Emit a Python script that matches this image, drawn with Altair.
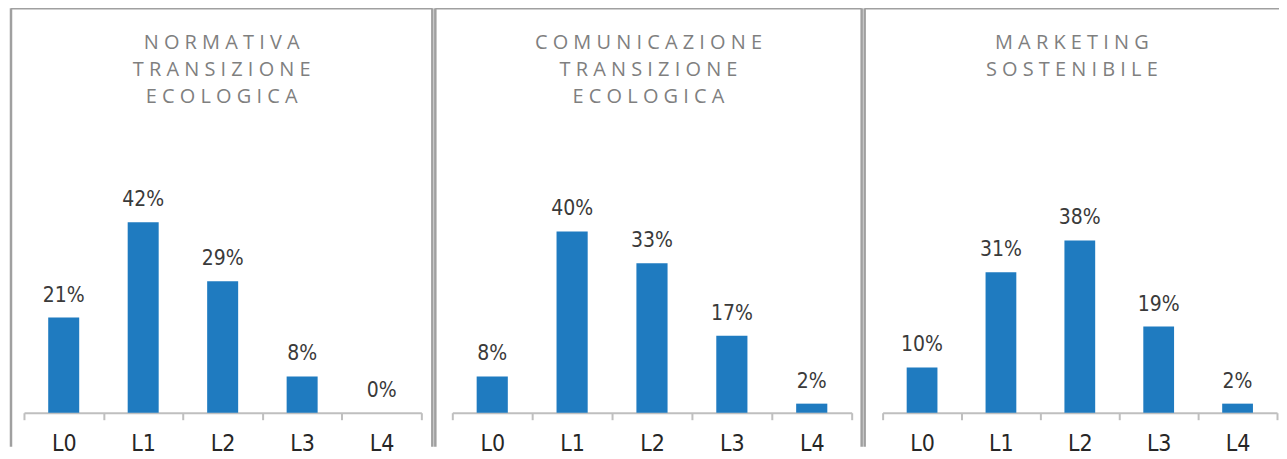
import altair as alt
import pandas as pd

levels = ["L0", "L1", "L2", "L3", "L4"]
title_lines = [
    ["NORMATIVA", "TRANSIZIONE", "ECOLOGICA"],
    ["COMUNICAZIONE", "TRANSIZIONE", "ECOLOGICA"],
    ["MARKETING", "SOSTENIBILE"],
]
values = [
    [21, 42, 29, 8, 0],
    [8, 40, 33, 17, 2],
    [10, 31, 38, 19, 2],
]

BLUE = "#1F7BC0"
BORDER = "#A0A0A0"
AXIS_GREY = "#BFBFBF"
TITLE_GREY = "#7F7F7F"
FONT = "Liberation Sans Narrow, DejaVu Sans Condensed, Open Sans"

widths = [422, 427, 415]
ranges = [[13, 411], [17, 417], [18, 413]]
H = 439
PX_PER_PCT = 4.54
BASE_FROM_TOP = 405
Y_DOM = [-(H - BASE_FROM_TOP) / PX_PER_PCT, BASE_FROM_TOP / PX_PER_PCT]


def spaced(word):
    return " ".join(list(word))


def border_axis(orient):
    return alt.Axis(
        orient=orient,
        domain=True,
        domainColor=BORDER,
        domainWidth=2.5,
        ticks=False,
        labels=False,
        grid=False,
        title=None,
        translate=0,
    )


def panel(i):
    df = pd.DataFrame({"lev": levels, "v": values[i]})
    w = widths[i]
    x = alt.X(
        "lev:N",
        sort=levels,
        scale=alt.Scale(range=ranges[i], paddingInner=0, paddingOuter=0),
        axis=alt.Axis(
            title=None,
            orient="bottom",
            offset=-(H - BASE_FROM_TOP),
            labelAngle=0,
            tickBand="extent",
            domainColor=AXIS_GREY,
            domainWidth=2,
            tickColor=AXIS_GREY,
            tickWidth=2,
            tickSize=7,
            labelFont=FONT,
            labelFontSize=23,
            labelColor="#262626",
            labelPadding=13,
            labelBaseline="top",
        ),
    )
    y = alt.Y(
        "v:Q",
        scale=alt.Scale(domain=Y_DOM, nice=False, zero=False),
        axis=border_axis("left"),
    )
    base = alt.Chart(df)
    bars = base.mark_bar(color=BLUE, width=alt.RelativeBandSize(0.39)).encode(
        x=x, y=y, y2=alt.datum(0)
    )
    labels = base.transform_calculate(lab="datum.v + '%'").mark_text(
        baseline="alphabetic", dy=-16, fontSize=21, color="#3A3A3A", font=FONT
    ).encode(x=x, y=y, text="lab:N")
    tdf = pd.DataFrame({"t": ["\n".join(spaced(s) for s in title_lines[i])]})
    title = alt.Chart(tdf).mark_text(
        baseline="alphabetic",
        align="center",
        lineBreak="\n",
        lineHeight=27,
        fontSize=20,
        color=TITLE_GREY,
        font="Open Sans",
    ).encode(x=alt.value(w / 2), y=alt.value(41), text="t:N")
    inner = alt.layer(bars, labels, title)

    fdf = pd.DataFrame({"fx": [0.0], "fy": [0.0]})
    frame = alt.Chart(fdf).mark_point(opacity=0).encode(
        x=alt.X("fx:Q", scale=alt.Scale(domain=[0, 1]), axis=border_axis("top")),
        y=alt.Y(
            "fy:Q",
            scale=alt.Scale(domain=[0, 1]),
            axis=border_axis("right") if i < 2 else None,
        ),
    )
    return (
        alt.layer(inner, frame)
        .resolve_scale(x="independent", y="independent")
        .properties(width=w, height=H)
    )


chart = (
    alt.hconcat(*[panel(i) for i in range(3)], spacing=0)
    .properties(padding=0, background="white")
    .configure_view(stroke=None)
)

chart.save("out.html", embed_options={"renderer": "svg", "actions": False})
